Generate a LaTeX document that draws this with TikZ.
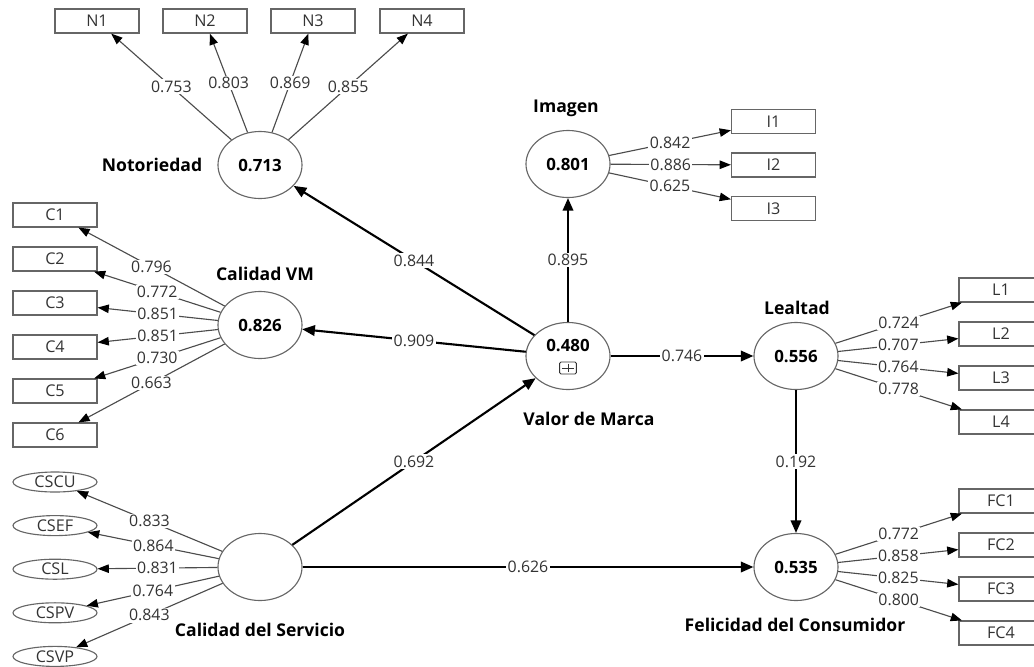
\documentclass[tikz,border=0pt]{standalone}
\usepackage{fontspec}
\setmainfont{Open Sans}
\usetikzlibrary{shapes.geometric,arrows.meta}

\begin{document}
\begin{tikzpicture}[x=0.025cm,y=-0.025cm,
  lv/.style={draw=black!60,ellipse,line width=0.8pt,minimum width=2.1cm,minimum height=1.675cm,inner sep=0pt,font=\bfseries\fontsize{12}{14}\selectfont},
  ind/.style={draw=black!60,rectangle,line width=0.8pt,minimum width=2.1cm,minimum height=0.6cm,inner sep=0pt,text=black!80,font=\fontsize{11.5}{13}\selectfont},
  indell/.style={ind,ellipse,minimum height=0.5cm},
  ldg/.style={draw=black!70,line width=0.8pt,-{Triangle[length=8pt,width=6pt,color=black]}},
  strc/.style={draw=black,line width=1.5pt,-{Triangle[length=9pt,width=7.5pt]}},
  coef/.style={fill=white,inner sep=1pt,text=black!80,font=\fontsize{11.3}{13}\selectfont},
  cname/.style={font=\bfseries\fontsize{12.5}{14}\selectfont}]
\useasboundingbox (0,0) rectangle (1034,666);
\clip (0,0) rectangle (1034,666);
% latent variables
\node[lv] (NOT) at (260,165) {0.713};
\node[lv] (CVM) at (260,325) {0.826};
\node[lv] (CS) at (260,567) {};
\node[lv] (VM) at (568,356) {};
\node[lv] (IMG) at (568,164) {0.801};
\node[lv] (LEA) at (796,356) {0.556};
\node[lv] (FC) at (796,567) {0.535};
\node[font=\bfseries\fontsize{12}{14}\selectfont] (VMV) at (568,345) {0.480};
\node[draw=black!80,rounded corners=1pt,line width=0.6pt,minimum width=0.42cm,minimum height=0.3cm,inner sep=0pt] (VMP) at (568,368) {};
\draw[black!80,line width=0.6pt] ([yshift=-1.5pt]VMP.north) -- ([yshift=1.5pt]VMP.south);
\draw[black!80,line width=0.6pt] ([xshift=2pt]VMP.west) -- ([xshift=-2pt]VMP.east);
% names
\node[cname] (tNOT) at (152,165) {Notoriedad};
\node[cname] (tCVM) at (265,274) {Calidad VM};
\node[cname] (tCS) at (260,630) {Calidad del Servicio};
\node[cname] (tIMG) at (566,108) {Imagen};
\node[cname] (tVM) at (589,419) {Valor de Marca};
\node[cname] (tLEA) at (797,308) {Lealtad};
\node[cname] (tFC) at (795,625) {Felicidad del Consumidor};
% indicators
\foreach \n/\x/\v in {1/97/0.753,2/205/0.803,3/313/0.869,4/422/0.855} {
  \node[ind] (N\n) at (\x,21) {N\n};
  \draw[ldg] (NOT) -- node[coef] {\v} (N\n);
}
\foreach \n/\v [count=\i from 0] in {1/0.796,2/0.772,3/0.851,4/0.851,5/0.730,6/0.663} {
  \node[ind] (C\n) at (55,{215+44*\i}) {C\n};
  \draw[ldg] (CVM) -- node[coef] {\v} (C\n);
}
\foreach \t/\v [count=\i from 0] in {CSCU/0.833,CSEF/0.864,CSL/0.831,CSPV/0.764,CSVP/0.843} {
  \node[indell] (\t) at (55,{482+43.6*\i}) {\t};
  \draw[ldg] (CS) -- node[coef] {\v} (\t);
}
\foreach \n/\v [count=\i from 0] in {1/0.842,2/0.886,3/0.625} {
  \node[ind] (I\n) at (773.5,{121.5+43.5*\i}) {I\n};
  \draw[ldg] (IMG) -- node[coef] {\v} (I\n);
}
\foreach \n/\v [count=\i from 0] in {1/0.724,2/0.707,3/0.764,4/0.778} {
  \node[ind] (L\n) at (1001,{290+44*\i}) {L\n};
  \draw[ldg] (LEA) -- node[coef] {\v} (L\n);
}
\foreach \n/\v [count=\i from 0] in {1/0.772,2/0.858,3/0.825,4/0.800} {
  \node[ind] (FC\n) at (1001,{501+44*\i}) {FC\n};
  \draw[ldg] (FC) -- node[coef] {\v} (FC\n);
}
% structural paths
\draw[strc] (VM) -- node[coef] {0.844} (NOT);
\draw[strc] (VM) -- node[coef] {0.909} (CVM);
\draw[strc] (VM) -- node[coef] {0.895} (IMG);
\draw[strc] (VM) -- node[coef] {0.746} (LEA);
\draw[strc] (CS) -- node[coef] {0.692} (VM);
\draw[strc] (CS) -- node[coef] {0.626} (FC);
\draw[strc] (LEA) -- node[coef] {0.192} (FC);
\end{tikzpicture}
\end{document}
